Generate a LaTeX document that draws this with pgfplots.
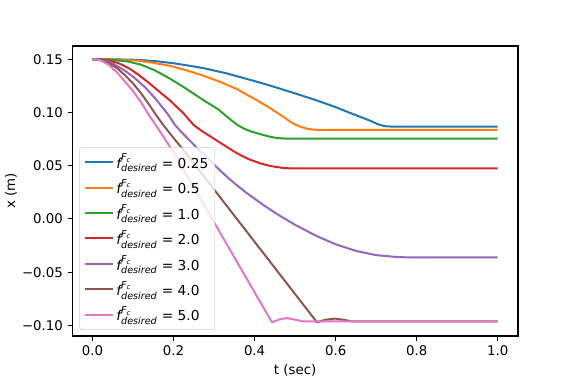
\documentclass[border=0pt]{standalone}
\usepackage{amsmath}
\usepackage{fontspec}
\setmainfont{DejaVu Sans}
\usepackage{pgfplots}
\pgfplotsset{compat=1.18}
\definecolor{mplA}{HTML}{1F77B4}
\definecolor{mplB}{HTML}{FF7F0E}
\definecolor{mplC}{HTML}{2CA02C}
\definecolor{mplD}{HTML}{D62728}
\definecolor{mplE}{HTML}{9467BD}
\definecolor{mplF}{HTML}{8C564B}
\definecolor{mplG}{HTML}{E377C2}
\newcommand{\fd}{$\textit{f}^{\textit{F}_{\textit{c}}}_{\textit{desired}}$}
\begin{document}
\begin{tikzpicture}
\path (-54.2pt,-36pt) rectangle (377.8pt,252pt);
\begin{axis}[
  at={(0pt,0pt)}, anchor=south west,
  scale only axis, width=334.3pt, height=217.5pt,
  xmin=-0.05, xmax=1.05, ymin=-0.1099, ymax=0.1624,
  axis line style={black, line width=0.8pt},
  tick align=outside, tick pos=left,
  major tick length=3.5pt,
  every tick/.style={black, line width=0.8pt},
  xtick={0,0.2,0.4,0.6,0.8,1.0},
  xticklabels={0.0,0.2,0.4,0.6,0.8,1.0},
  ytick={-0.10,-0.05,0,0.05,0.10,0.15},
  yticklabels={−0.10,−0.05,0.00,0.05,0.10,0.15},
  tick label style={font=\fontsize{10}{12}\selectfont},
  label style={font=\fontsize{10}{12}\selectfont},
  xlabel={t (sec)}, ylabel={x (m)}, ylabel shift=-3pt,
  legend cell align=left,
  legend style={at={(0.016,0.021)}, anchor=south west, draw=black!20, rounded corners=2pt,
    fill=white, fill opacity=0.8, text opacity=1, font=\fontsize{10.3}{12}\selectfont,
    inner xsep=3pt, inner ysep=3pt, row sep=3pt},
  legend image code/.code={\draw[#1, line width=1.5pt] (0pt,0pt) -- (21pt,0pt);},
]
\addplot[draw=mplA, line width=1.5pt, line join=round] coordinates {(0,0.150) (0.05,0.1499) (0.11,0.1494) (0.16,0.1480) (0.2,0.1462) (0.24,0.1438) (0.274,0.1416) (0.33,0.1368) (0.389,0.1306) (0.43,0.1262) (0.472,0.1212) (0.514,0.1162) (0.554,0.1112) (0.6,0.1050) (0.636,0.0995) (0.67,0.0945) (0.69,0.0915) (0.702,0.0893) (0.712,0.0880) (0.722,0.0871) (0.735,0.0868) (1.0,0.0868)};
\addlegendentry{\fd\ = 0.25}
\addplot[draw=mplB, line width=1.5pt, line join=round] coordinates {(0,0.150) (0.05,0.1497) (0.11,0.1487) (0.15,0.1466) (0.192,0.1437) (0.23,0.1398) (0.274,0.1345) (0.32,0.1280) (0.356,0.1220) (0.4,0.1127) (0.44,0.1037) (0.47,0.0962) (0.49,0.0908) (0.50,0.0887) (0.513,0.0866) (0.53,0.0847) (0.546,0.0838) (0.56,0.0837) (1.0,0.0837)};
\addlegendentry{\fd\ = 0.5}
\addplot[draw=mplC, line width=1.5pt, line join=round] coordinates {(0,0.150) (0.04,0.1497) (0.088,0.1478) (0.12,0.1448) (0.154,0.1395) (0.19,0.1320) (0.22,0.1250) (0.25,0.1175) (0.28,0.1100) (0.31,0.1030) (0.335,0.0950) (0.356,0.0886) (0.375,0.0846) (0.39,0.0823) (0.406,0.0805) (0.42,0.0790) (0.439,0.0771) (0.455,0.0760) (0.475,0.0755) (1.0,0.0755)};
\addlegendentry{\fd\ = 1.0}
\addplot[draw=mplD, line width=1.5pt, line join=round] coordinates {(0,0.150) (0.03,0.1495) (0.063,0.1465) (0.09,0.1415) (0.113,0.1355) (0.14,0.1275) (0.165,0.1195) (0.192,0.1110) (0.225,0.0990) (0.249,0.0884) (0.27,0.0825) (0.299,0.0755) (0.33,0.0680) (0.356,0.0618) (0.385,0.0562) (0.414,0.0522) (0.44,0.0496) (0.472,0.0478) (0.495,0.0474) (1.0,0.0474)};
\addlegendentry{\fd\ = 2.0}
\addplot[draw=mplE, line width=1.5pt, line join=round] coordinates {(0,0.150) (0.02,0.1496) (0.04,0.1476) (0.055,0.1450) (0.08,0.1392) (0.105,0.1320) (0.13,0.1235) (0.154,0.1135) (0.17,0.1060) (0.187,0.0978) (0.203,0.0885) (0.217,0.0825) (0.24,0.0737) (0.26,0.0658) (0.274,0.0612) (0.3,0.0510) (0.319,0.0440) (0.34,0.0368) (0.36,0.0305) (0.38,0.0245) (0.42,0.0135) (0.46,0.0035) (0.50,-0.0055) (0.55,-0.0155) (0.60,-0.0238) (0.65,-0.0300) (0.70,-0.0340) (0.75,-0.0357) (0.78,-0.0361) (1.0,-0.0361)};
\addlegendentry{\fd\ = 3.0}
\addplot[draw=mplF, line width=1.5pt, line join=round] coordinates {(0,0.150) (0.02,0.1495) (0.04,0.1462) (0.06,0.1418) (0.08,0.1350) (0.10,0.1272) (0.12,0.1178) (0.14,0.1072) (0.155,0.0985) (0.175,0.0880) (0.2,0.0760) (0.225,0.0645) (0.554,-0.0971) (0.575,-0.0946) (0.599,-0.0936) (0.62,-0.0947) (0.64,-0.0962) (1.0,-0.0962)};
\addlegendentry{\fd\ = 4.0}
\addplot[draw=mplG, line width=1.5pt, line join=round] coordinates {(0,0.150) (0.01,0.1497) (0.02,0.1488) (0.03,0.1470) (0.04,0.1447) (0.06,0.1378) (0.08,0.1290) (0.10,0.1200) (0.12,0.1095) (0.14,0.0970) (0.16,0.0860) (0.20,0.0625) (0.443,-0.0971) (0.46,-0.0945) (0.48,-0.0930) (0.50,-0.0946) (0.52,-0.0962) (1.0,-0.0962)};
\addlegendentry{\fd\ = 5.0}
\end{axis}
\end{tikzpicture}
\end{document}
